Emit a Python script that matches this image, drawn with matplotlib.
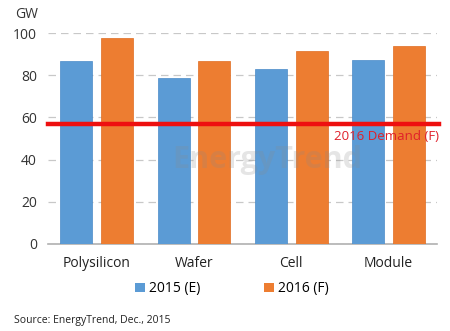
import numpy as np
import matplotlib
matplotlib.use("Agg")
from matplotlib import pyplot as plt
from matplotlib.patches import Patch

categories = ["Polysilicon", "Wafer", "Cell", "Module"]
vals_2015 = [86.7, 78.7, 83.0, 87.2]
vals_2016 = [97.6, 86.7, 91.5, 93.8]
demand_2016 = 57
yticks = [0, 20, 40, 60, 80, 100]

blue = "#5b9bd5"
orange = "#ed7d31"
red = "#ee1010"

plt.rcParams["font.family"] = ["Open Sans", "DejaVu Sans"]

fig = plt.figure(figsize=(4.5, 3.31), dpi=100)
ax = fig.add_axes([0.107, 0.263, 0.864, 0.637])

x = np.arange(len(categories))
w = 0.33
ax.bar(x - 0.21, vals_2015, w, color=blue, edgecolor="#4a8ac8", linewidth=0.5, zorder=3)
ax.bar(x + 0.21, vals_2016, w, color=orange, edgecolor="#e06c20", linewidth=0.5, zorder=3)

ax.set_xlim(-0.5, 3.5)
ax.set_ylim(0, 100)
ax.set_yticks(yticks)
ax.set_yticklabels([str(t) for t in yticks], fontsize=10, color="#333333")
ax.set_xticks(x)
ax.set_xticklabels(categories, fontsize=10, color="#222222")
ax.tick_params(length=0, pad=8)
ax.tick_params(axis="x", pad=9)
ax.yaxis.grid(True, linestyle=(0, (6, 4)), color="#c8c8c8", linewidth=0.9, zorder=0)
for s in ["top", "right", "left"]:
    ax.spines[s].set_visible(False)
ax.spines["bottom"].set_color("#b0b0b0")
ax.spines["bottom"].set_linewidth(1.2)

# demand line
ax.plot([-0.5, 3.52], [demand_2016, demand_2016], color=red, linewidth=3.2, zorder=4, clip_on=False)
ax.text(3.52, demand_2016 - 3, "2016 Demand (F)", color="#e0202a", fontsize=9.5,
        ha="right", va="top", zorder=6)

# faint watermark
ax.text(1.75, 40, "EnergyTrend", color="#8a8a8a", alpha=0.22, fontsize=22,
        fontweight="bold", ha="center", va="center", zorder=5)

fig.text(0.033, 0.955, "GW", fontsize=10, color="#333333", ha="left", va="center")

handles = [Patch(facecolor=blue), Patch(facecolor=orange)]
fig.legend(handles, ["2015 (E)", "2016 (F)"], loc="center", bbox_to_anchor=(0.515, 0.127),
           ncol=2, frameon=False, fontsize=10, handlelength=0.7, handleheight=0.7,
           handletextpad=0.3, columnspacing=4.6)

fig.text(0.03, 0.033, "Source: EnergyTrend, Dec., 2015", fontsize=7.5, color="#222222",
         ha="left", va="center")

fig.savefig("out.png", dpi=100, facecolor="white")
